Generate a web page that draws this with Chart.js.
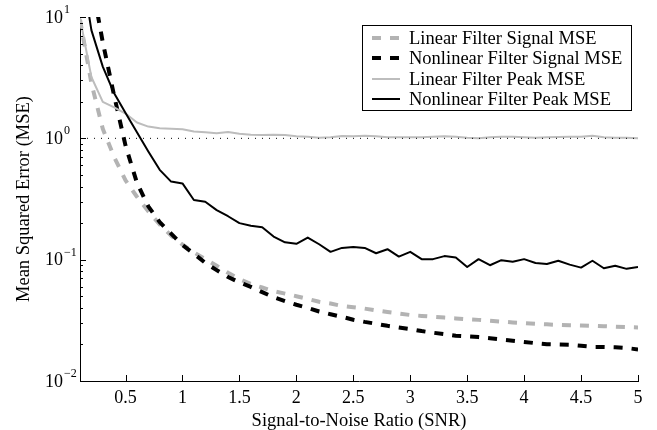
<!DOCTYPE html>
<html>
<head>
<meta charset="utf-8">
<script src="https://cdn.jsdelivr.net/npm/chart.js@4.4.1/dist/chart.umd.min.js"></script>
<style>
  html, body { margin: 0; padding: 0; background: #fff; }
</style>
</head>
<body>
<canvas id="mseChart" width="657" height="430"></canvas>
<script>
// x values (SNR) and the four curves
const snr = [0.1, 0.2, 0.3, 0.4, 0.5, 0.6, 0.7, 0.8, 0.9, 1.0,
  1.1, 1.2, 1.3, 1.4, 1.5, 1.6, 1.7, 1.8, 1.9, 2.0,
  2.1, 2.2, 2.3, 2.4, 2.5, 2.6, 2.7, 2.8, 2.9, 3.0,
  3.1, 3.2, 3.3, 3.4, 3.5, 3.6, 3.7, 3.8, 3.9, 4.0,
  4.1, 4.2, 4.3, 4.4, 4.5, 4.6, 4.7, 4.8, 4.9, 5.0];

const linearSignalMse = [9.5, 2.85, 1.2, 0.70, 0.45, 0.33, 0.25, 0.195, 0.158, 0.133,
  0.115, 0.101, 0.089, 0.078, 0.069, 0.063, 0.059, 0.055, 0.0525, 0.050,
  0.0475, 0.045, 0.0435, 0.0415, 0.0405, 0.0395, 0.0382, 0.037, 0.036, 0.035,
  0.0344, 0.0338, 0.0333, 0.0328, 0.0323, 0.0319, 0.0314, 0.0309, 0.0304, 0.030,
  0.0296, 0.0293, 0.029, 0.0288, 0.0287, 0.0285, 0.0283, 0.028, 0.0278, 0.0276];

const nonlinearSignalMse = [80, 20, 6.2, 2.24, 0.87, 0.43, 0.275, 0.204, 0.164, 0.132,
  0.112, 0.094, 0.082, 0.072, 0.065, 0.0596, 0.054, 0.049, 0.0455, 0.0425,
  0.040, 0.0374, 0.0355, 0.0338, 0.032, 0.0307, 0.0296, 0.0285, 0.0276, 0.0268,
  0.0258, 0.025, 0.0243, 0.0236, 0.0233, 0.023, 0.0225, 0.022, 0.0215, 0.021,
  0.0205, 0.0201, 0.0200, 0.0199, 0.0195, 0.0191, 0.0191, 0.0190, 0.0187, 0.0182];

const linearPeakMse = [9.8, 3.2, 2.0, 1.8, 1.6, 1.35, 1.25, 1.21, 1.2, 1.19,
  1.14, 1.12, 1.1, 1.13, 1.09, 1.07, 1.065, 1.07, 1.065, 1.04,
  1.03, 1.01, 1.02, 1.045, 1.04, 1.05, 1.04, 1.02, 1.02, 1.02,
  1.02, 1.03, 1.04, 1.03, 1.01, 1.0, 1.02, 1.03, 1.03, 1.02,
  1.01, 1.02, 1.025, 1.03, 1.03, 1.05, 1.02, 1.01, 1.01, 1.0];

const nonlinearPeakMse = [30, 7.8, 3.9, 2.35, 1.62, 1.12, 0.78, 0.55, 0.44, 0.425,
  0.31, 0.30, 0.256, 0.228, 0.20, 0.19, 0.185, 0.155, 0.139, 0.135,
  0.152, 0.134, 0.116, 0.125, 0.127, 0.125, 0.113, 0.122, 0.106, 0.116,
  0.101, 0.101, 0.107, 0.104, 0.087, 0.101, 0.090, 0.099, 0.096, 0.101,
  0.094, 0.092, 0.098, 0.091, 0.086, 0.098, 0.085, 0.089, 0.084, 0.087];

const seriesLabels = ['Linear Filter Signal MSE', 'Nonlinear Filter Signal MSE',
  'Linear Filter Peak MSE', 'Nonlinear Filter Peak MSE'];

const xTickValues = [0.5, 1, 1.5, 2, 2.5, 3, 3.5, 4, 4.5, 5];
const yTickValues = [0.01, 0.1, 1, 10];
const yTickExponents = ['\u22122', '\u22121', '0', '1'];
const referenceLevel = 1;

const FONT = '"Liberation Serif", "Times New Roman", serif';

function points(values) {
  return snr.map((x, i) => ({ x: x, y: values[i] }));
}

// matlab-like axes: inward ticks, 10^n labels, boxed legend
const matlabAxes = {
  id: 'matlabAxes',
  afterDraw(chart) {
    const ctx = chart.ctx;
    const area = chart.chartArea;
    const xs = chart.scales.x;
    const ys = chart.scales.y;
    ctx.save();
    ctx.strokeStyle = '#000';
    ctx.lineWidth = 1;
    ctx.beginPath();
    xTickValues.forEach(v => {
      const px = Math.round(xs.getPixelForValue(v)) + 0.5;
      ctx.moveTo(px, area.bottom);
      ctx.lineTo(px, area.bottom - 6);
    });
    yTickValues.forEach((v, i) => {
      const py = Math.round(ys.getPixelForValue(v)) + 0.5;
      ctx.moveTo(area.left, py);
      ctx.lineTo(area.left + 6, py);
      if (i < yTickValues.length - 1) {
        for (let k = 2; k <= 9; k++) {
          const pm = Math.round(ys.getPixelForValue(v * k)) + 0.5;
          ctx.moveTo(area.left, pm);
          ctx.lineTo(area.left + 3, pm);
        }
      }
    });
    ctx.stroke();

    ctx.fillStyle = '#000';
    ctx.textBaseline = 'middle';
    yTickValues.forEach((v, i) => {
      const py = ys.getPixelForValue(v);
      ctx.font = '18px ' + FONT;
      ctx.textAlign = 'right';
      ctx.fillText('10', area.left - 17, py + 1);
      ctx.font = '12px ' + FONT;
      ctx.textAlign = 'left';
      ctx.fillText(yTickExponents[i], area.left - 16, py - 7);
    });

    // legend box
    ctx.fillStyle = '#fff';
    ctx.fillRect(362, 25, 270, 85);
    ctx.strokeStyle = '#000';
    ctx.lineWidth = 1;
    ctx.strokeRect(362.5, 25.5, 269, 85);
    ctx.font = '18.5px ' + FONT;
    ctx.textAlign = 'left';
    chart.data.datasets.forEach((ds, i) => {
      if (!ds.label) return;
      const ly = Math.round(37.7 + i * 20.5);
      ctx.setLineDash(ds.borderDash || []);
      ctx.strokeStyle = ds.borderColor;
      ctx.lineWidth = ds.borderWidth;
      ctx.beginPath();
      ctx.moveTo(372, ly);
      ctx.lineTo(400, ly);
      ctx.stroke();
      ctx.setLineDash([]);
      ctx.fillStyle = '#000';
      ctx.fillText(ds.label, 409, ly + 1);
    });
    ctx.restore();
  }
};

new Chart(document.getElementById('mseChart'), {
  type: 'line',
  data: {
    datasets: [
      {
        label: seriesLabels[0],
        data: points(linearSignalMse),
        borderColor: '#b3b3b3',
        borderWidth: 4,
        borderDash: [9, 9],
        order: 4
      },
      {
        label: seriesLabels[1],
        data: points(nonlinearSignalMse),
        borderColor: '#000000',
        borderWidth: 4,
        borderDash: [9, 9],
        order: 3
      },
      {
        label: seriesLabels[2],
        data: points(linearPeakMse),
        borderColor: '#bdbdbd',
        borderWidth: 2,
        order: 2
      },
      {
        label: seriesLabels[3],
        data: points(nonlinearPeakMse),
        borderColor: '#000000',
        borderWidth: 2,
        order: 1
      },
      {
        data: [{ x: snr[0], y: referenceLevel }, { x: snr[snr.length - 1], y: referenceLevel }],
        borderColor: '#000000',
        borderWidth: 1,
        borderDash: [1, 6],
        order: 0
      }
    ]
  },
  options: {
    responsive: false,
    animation: false,
    devicePixelRatio: 1,
    layout: { padding: { top: 17, right: 19, left: 0, bottom: 0 } },
    elements: {
      point: { radius: 0 },
      line: { tension: 0, fill: false, borderJoinStyle: 'round' }
    },
    datasets: { line: { clip: 0 } },
    plugins: {
      legend: { display: false },
      tooltip: { enabled: false }
    },
    scales: {
      x: {
        type: 'linear',
        min: 0.1,
        max: 5,
        afterBuildTicks: s => { s.ticks = xTickValues.map(v => ({ value: v })); },
        afterFit: s => { s.height = 49; },
        grid: { display: false, drawTicks: false },
        border: { display: true, color: '#000', width: 1 },
        ticks: {
          autoSkip: false,
          maxRotation: 0,
          padding: 6,
          color: '#000',
          font: { family: FONT, size: 18 },
          callback: v => String(v)
        },
        title: {
          display: true,
          text: 'Signal-to-Noise Ratio (SNR)',
          color: '#000',
          font: { family: FONT, size: 18.5, lineHeight: 1 },
          padding: { top: 0, bottom: 0 }
        }
      },
      y: {
        type: 'logarithmic',
        min: 0.01,
        max: 10,
        afterFit: s => { s.width = 80; },
        grid: { display: false, drawTicks: false },
        border: { display: true, color: '#000', width: 1 },
        ticks: { display: false },
        title: {
          display: true,
          text: 'Mean Squared Error (MSE)',
          color: '#000',
          font: { family: FONT, size: 18.5, lineHeight: 1 },
          padding: { top: 15, bottom: 0 }
        }
      }
    }
  },
  plugins: [matlabAxes]
});
</script>
</body>
</html>
